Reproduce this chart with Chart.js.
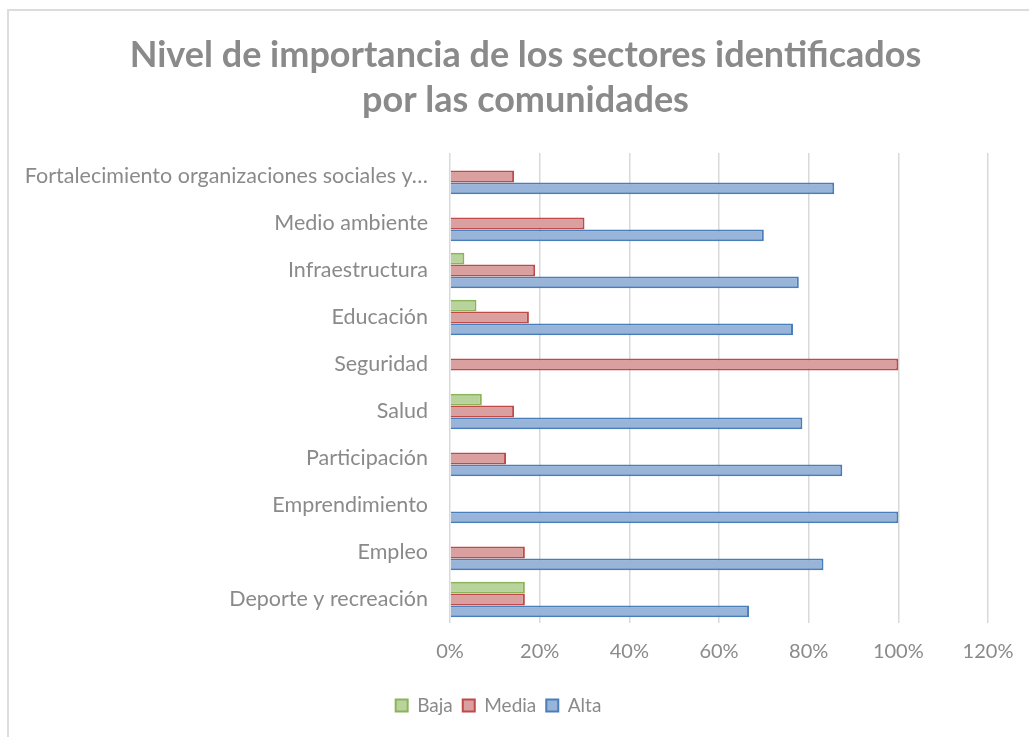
<!DOCTYPE html>
<html>
<head>
<meta charset="utf-8">
<script src="https://cdn.jsdelivr.net/npm/chart.js@4/dist/chart.umd.min.js"></script>
<style>
  html, body { margin: 0; padding: 0; background: #ffffff; overflow: hidden; width: 1029px; height: 737px; }
  #wrap { position: absolute; left: 7px; top: 9px; width: 1036px; height: 745px; border: 2px solid #dcdcdc; background: #fff; }
  canvas { display: block; }
</style>
</head>
<body>
<div id="wrap"><canvas id="c" width="1036" height="745"></canvas></div>
<script>
const categories = ['Fortalecimiento organizaciones sociales y…', 'Medio ambiente', 'Infraestructura', 'Educación', 'Seguridad', 'Salud', 'Participación', 'Emprendimiento', 'Empleo', 'Deporte y recreación'];
const seriesNames = ['Baja', 'Media', 'Alta'];
const baja  = [null, null, 3.2, 5.9, null, 7.1, null, null, null, 16.7];
const media = [14.3, 30.0, 19.0, 17.6, 100, 14.3, 12.5, null, 16.7, 16.7];
const alta  = [85.7, 70.0, 77.8, 76.5, null, 78.6, 87.5, 100, 83.3, 66.7];
const xTicks = [0, 20, 40, 60, 80, 100, 120];

const FONT = 'Lato, "Open Sans", sans-serif';
const GRAY = '#8a8a8a';

const titleShift = {
  id: 'titleShift',
  afterLayout(chart) {
    const t = chart.titleBlock;
    if (t) { t.left += 27; t.right += 27; }
  }
};

new Chart(document.getElementById('c'), {
  type: 'bar',
  data: {
    labels: categories,
    datasets: [
      { label: seriesNames[0], data: baja, backgroundColor: '#b9d39c', borderColor: '#8cb35a', borderWidth: 2 },
      { label: seriesNames[1], data: media, backgroundColor: '#daa0a0', borderColor: '#be4b48', borderWidth: 2 },
      { label: seriesNames[2], data: alta, backgroundColor: '#98b4d8', borderColor: '#4a7ebb', borderWidth: 2 }
    ]
  },
  options: {
    indexAxis: 'y',
    responsive: false,
    animation: false,
    categoryPercentage: 0.76,
    barPercentage: 1.0,
    layout: { padding: { left: 0, right: 57, top: 0, bottom: 31 } },
    plugins: {
      title: {
        display: true,
        text: ['Nivel de importancia de los sectores identificados', 'por las comunidades'],
        color: GRAY,
        font: { family: FONT, size: 36, weight: 'bold', lineHeight: 1.25 },
        padding: { top: 22, bottom: 30 }
      },
      legend: {
        position: 'bottom',
        labels: {
          color: GRAY,
          font: { family: FONT, size: 19 },
          boxWidth: 12,
          boxHeight: 12,
          padding: 10
        }
      },
      tooltip: { enabled: false }
    },
    scales: {
      x: {
        min: 0,
        max: 120,
        afterBuildTicks: (s) => { s.ticks = xTicks.map(v => ({ value: v })); },
        afterFit: (s) => { s.height += 5; },
        ticks: { color: GRAY, font: { family: FONT, size: 20 }, padding: 17, callback: (v) => v + '%' },
        grid: { color: '#d9d9d9', lineWidth: 1.5, drawTicks: false },
        border: { display: false }
      },
      y: {
        afterFit: (s) => { s.width = 441; },
        ticks: { color: GRAY, font: { family: FONT, size: 21.5 }, padding: 22, autoSkip: false },
        grid: { display: false, drawTicks: false },
        border: { display: false }
      }
    }
  },
  plugins: [titleShift]
});
</script>
</body>
</html>
